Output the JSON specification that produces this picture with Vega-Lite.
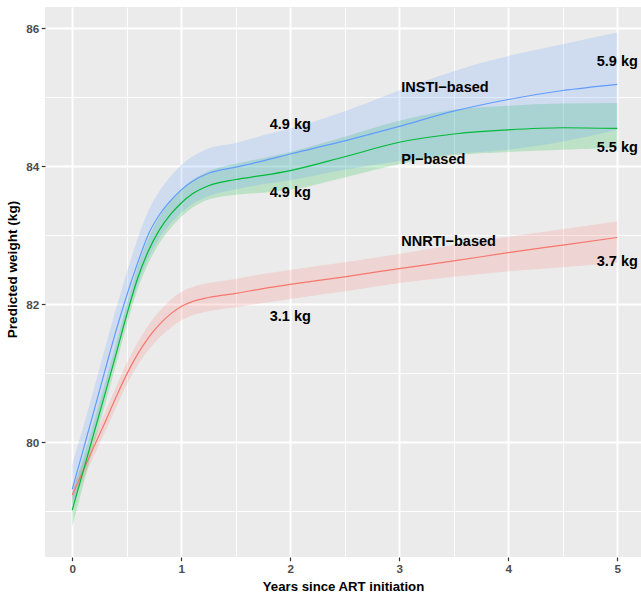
{
  "$schema": "https://vega.github.io/schema/vega-lite/v6.json",
  "width": 596,
  "height": 550,
  "autosize": {"type": "none"},
  "padding": {"left": 45, "top": 7, "right": 0, "bottom": 42},
  "background": "white",
  "config": {
    "view": {"fill": "#EBEBEB", "stroke": null},
    "font": "Liberation Sans",
    "axis": {
      "domain": false,
      "gridColor": "white",
      "tickColor": "#333333",
      "labelColor": "#4D4D4D",
      "labelFont": "Liberation Sans",
      "labelFontWeight": "bold",
      "titleFont": "Liberation Sans",
      "titleFontWeight": "bold",
      "titleColor": "black"
    }
  },
  "datasets": {
    "curves": [
      {"group": "NNRTI-based", "t": 0, "fit": 79.24, "lo": 79.13, "hi": 79.35},
      {"group": "NNRTI-based", "t": 0.1, "fit": 79.59, "lo": 79.47, "hi": 79.71},
      {"group": "NNRTI-based", "t": 0.2, "fit": 79.94, "lo": 79.81, "hi": 80.07},
      {"group": "NNRTI-based", "t": 0.3, "fit": 80.29, "lo": 80.15, "hi": 80.43},
      {"group": "NNRTI-based", "t": 0.4, "fit": 80.65, "lo": 80.5, "hi": 80.8},
      {"group": "NNRTI-based", "t": 0.5, "fit": 80.99, "lo": 80.84, "hi": 81.15},
      {"group": "NNRTI-based", "t": 0.6, "fit": 81.28, "lo": 81.12, "hi": 81.45},
      {"group": "NNRTI-based", "t": 0.7, "fit": 81.52, "lo": 81.34, "hi": 81.7},
      {"group": "NNRTI-based", "t": 0.8, "fit": 81.71, "lo": 81.52, "hi": 81.9},
      {"group": "NNRTI-based", "t": 0.9, "fit": 81.86, "lo": 81.66, "hi": 82.06},
      {"group": "NNRTI-based", "t": 1.0, "fit": 81.97, "lo": 81.77, "hi": 82.18},
      {"group": "NNRTI-based", "t": 1.1, "fit": 82.04, "lo": 81.84, "hi": 82.25},
      {"group": "NNRTI-based", "t": 1.25, "fit": 82.1, "lo": 81.9, "hi": 82.31},
      {"group": "NNRTI-based", "t": 1.5, "fit": 82.16, "lo": 81.96, "hi": 82.37},
      {"group": "NNRTI-based", "t": 1.75, "fit": 82.23, "lo": 82.02, "hi": 82.44},
      {"group": "NNRTI-based", "t": 2.0, "fit": 82.29, "lo": 82.08, "hi": 82.5},
      {"group": "NNRTI-based", "t": 2.5, "fit": 82.4, "lo": 82.19, "hi": 82.61},
      {"group": "NNRTI-based", "t": 3.0, "fit": 82.52, "lo": 82.31, "hi": 82.73},
      {"group": "NNRTI-based", "t": 3.5, "fit": 82.63, "lo": 82.4, "hi": 82.86},
      {"group": "NNRTI-based", "t": 4.0, "fit": 82.75, "lo": 82.48, "hi": 82.98},
      {"group": "NNRTI-based", "t": 4.5, "fit": 82.86, "lo": 82.54, "hi": 83.09},
      {"group": "NNRTI-based", "t": 5.0, "fit": 82.97, "lo": 82.6, "hi": 83.2},
      {"group": "PI-based", "t": 0, "fit": 79.02, "lo": 78.78, "hi": 79.26},
      {"group": "PI-based", "t": 0.1, "fit": 79.58, "lo": 79.38, "hi": 79.78},
      {"group": "PI-based", "t": 0.2, "fit": 80.14, "lo": 79.97, "hi": 80.31},
      {"group": "PI-based", "t": 0.3, "fit": 80.7, "lo": 80.54, "hi": 80.86},
      {"group": "PI-based", "t": 0.4, "fit": 81.27, "lo": 81.12, "hi": 81.42},
      {"group": "PI-based", "t": 0.5, "fit": 81.85, "lo": 81.7, "hi": 82.0},
      {"group": "PI-based", "t": 0.6, "fit": 82.38, "lo": 82.22, "hi": 82.54},
      {"group": "PI-based", "t": 0.7, "fit": 82.78, "lo": 82.6, "hi": 82.96},
      {"group": "PI-based", "t": 0.8, "fit": 83.08, "lo": 82.89, "hi": 83.27},
      {"group": "PI-based", "t": 0.9, "fit": 83.3, "lo": 83.1, "hi": 83.5},
      {"group": "PI-based", "t": 1.0, "fit": 83.47, "lo": 83.27, "hi": 83.67},
      {"group": "PI-based", "t": 1.1, "fit": 83.6, "lo": 83.4, "hi": 83.8},
      {"group": "PI-based", "t": 1.25, "fit": 83.72, "lo": 83.52, "hi": 83.93},
      {"group": "PI-based", "t": 1.5, "fit": 83.81, "lo": 83.59, "hi": 84.04},
      {"group": "PI-based", "t": 1.75, "fit": 83.87, "lo": 83.62, "hi": 84.12},
      {"group": "PI-based", "t": 2.0, "fit": 83.94, "lo": 83.66, "hi": 84.21},
      {"group": "PI-based", "t": 2.5, "fit": 84.14, "lo": 83.84, "hi": 84.43},
      {"group": "PI-based", "t": 3.0, "fit": 84.35, "lo": 84.03, "hi": 84.66},
      {"group": "PI-based", "t": 3.5, "fit": 84.47, "lo": 84.16, "hi": 84.82},
      {"group": "PI-based", "t": 4.0, "fit": 84.53, "lo": 84.21, "hi": 84.88},
      {"group": "PI-based", "t": 4.5, "fit": 84.56, "lo": 84.24, "hi": 84.91},
      {"group": "PI-based", "t": 5.0, "fit": 84.55, "lo": 84.27, "hi": 84.92},
      {"group": "INSTI-based", "t": 0, "fit": 79.32, "lo": 79.0, "hi": 79.68},
      {"group": "INSTI-based", "t": 0.1, "fit": 79.89, "lo": 79.58, "hi": 80.22},
      {"group": "INSTI-based", "t": 0.2, "fit": 80.46, "lo": 80.15, "hi": 80.78},
      {"group": "INSTI-based", "t": 0.3, "fit": 81.04, "lo": 80.73, "hi": 81.36},
      {"group": "INSTI-based", "t": 0.4, "fit": 81.61, "lo": 81.3, "hi": 81.93},
      {"group": "INSTI-based", "t": 0.5, "fit": 82.13, "lo": 81.82, "hi": 82.46},
      {"group": "INSTI-based", "t": 0.6, "fit": 82.6, "lo": 82.29, "hi": 82.95},
      {"group": "INSTI-based", "t": 0.7, "fit": 83.02, "lo": 82.68, "hi": 83.36},
      {"group": "INSTI-based", "t": 0.8, "fit": 83.3, "lo": 82.96, "hi": 83.64},
      {"group": "INSTI-based", "t": 0.9, "fit": 83.5, "lo": 83.17, "hi": 83.85},
      {"group": "INSTI-based", "t": 1.0, "fit": 83.66, "lo": 83.33, "hi": 84.02},
      {"group": "INSTI-based", "t": 1.1, "fit": 83.78, "lo": 83.45, "hi": 84.14},
      {"group": "INSTI-based", "t": 1.25, "fit": 83.9, "lo": 83.57, "hi": 84.26},
      {"group": "INSTI-based", "t": 1.5, "fit": 83.99, "lo": 83.67, "hi": 84.34},
      {"group": "INSTI-based", "t": 1.75, "fit": 84.08, "lo": 83.74, "hi": 84.45},
      {"group": "INSTI-based", "t": 2.0, "fit": 84.18, "lo": 83.8, "hi": 84.55},
      {"group": "INSTI-based", "t": 2.5, "fit": 84.37, "lo": 83.95, "hi": 84.8},
      {"group": "INSTI-based", "t": 3.0, "fit": 84.58, "lo": 84.08, "hi": 85.1},
      {"group": "INSTI-based", "t": 3.5, "fit": 84.8, "lo": 84.18, "hi": 85.38},
      {"group": "INSTI-based", "t": 4.0, "fit": 84.97, "lo": 84.24, "hi": 85.6},
      {"group": "INSTI-based", "t": 4.5, "fit": 85.1, "lo": 84.36, "hi": 85.77},
      {"group": "INSTI-based", "t": 5.0, "fit": 85.19, "lo": 84.53, "hi": 85.94}
    ],
    "centerLabels": [
      {"label": "4.9 kg", "x": 2, "y": 84.6},
      {"label": "4.9 kg", "x": 2, "y": 83.62},
      {"label": "3.1 kg", "x": 2, "y": 81.82},
      {"label": "5.9 kg", "x": 5, "y": 85.52},
      {"label": "5.5 kg", "x": 5, "y": 84.27},
      {"label": "3.7 kg", "x": 5, "y": 82.62}
    ],
    "leftLabels": [
      {"label": "INSTI−based", "x": 3, "y": 85.14},
      {"label": "PI−based", "x": 3, "y": 84.1},
      {"label": "NNRTI−based", "x": 3, "y": 82.91}
    ]
  },
  "layer": [
    {
      "data": {"name": "curves"},
      "mark": {"type": "area", "fillOpacity": 0.2, "interpolate": "monotone", "clip": true},
      "encoding": {
        "x": {
          "field": "t", "type": "quantitative",
          "scale": {"domain": [-0.25, 5.218], "nice": false, "zero": false},
          "axis": {"orient": "bottom", "values": [0.5, 1.5, 2.5, 3.5, 4.5], "grid": true, "gridWidth": 0.95, "labels": false, "ticks": false, "title": null}
        },
        "y": {
          "field": "lo", "type": "quantitative",
          "scale": {"domain": [78.34, 86.31], "nice": false, "zero": false},
          "axis": {"orient": "left", "values": [79, 81, 83, 85], "grid": true, "gridWidth": 0.95, "labels": false, "ticks": false, "title": null}
        },
        "y2": {"field": "hi"},
        "color": {
          "field": "group", "type": "nominal",
          "scale": {"domain": ["NNRTI-based", "PI-based", "INSTI-based"], "range": ["#F8766D", "#00BA38", "#619CFF"]},
          "legend": null
        }
      }
    },
    {
      "data": {"name": "curves"},
      "mark": {"type": "line", "strokeWidth": 1.2, "interpolate": "monotone", "clip": true},
      "encoding": {
        "x": {
          "field": "t", "type": "quantitative",
          "scale": {"domain": [-0.25, 5.218], "nice": false, "zero": false},
          "axis": {"orient": "bottom", "values": [0, 1, 2, 3, 4, 5], "grid": true, "gridWidth": 1.9, "tickSize": 3.7, "tickWidth": 1.2, "labelPadding": 2.5, "labelFontSize": 11.7, "titleFontSize": 13.2, "titlePadding": 6, "title": "Years since ART initiation"}
        },
        "y": {
          "field": "fit", "type": "quantitative",
          "scale": {"domain": [78.34, 86.31], "nice": false, "zero": false},
          "axis": {"orient": "left", "values": [80, 82, 84, 86], "grid": true, "gridWidth": 1.9, "tickSize": 3.7, "tickWidth": 1.2, "labelPadding": 2.5, "labelFontSize": 11.7, "titleFontSize": 13.6, "titlePadding": 6, "titleY": 262, "title": "Predicted weight (kg)"}
        },
        "color": {
          "field": "group", "type": "nominal",
          "scale": {"domain": ["NNRTI-based", "PI-based", "INSTI-based"], "range": ["#F8766D", "#00BA38", "#619CFF"]},
          "legend": null
        }
      }
    },
    {
      "data": {"name": "centerLabels"},
      "mark": {"type": "text", "fontSize": 14.5, "fontWeight": "bold", "color": "black", "align": "center", "baseline": "middle", "font": "Liberation Sans"},
      "encoding": {
        "x": {"field": "x", "type": "quantitative", "scale": {"domain": [-0.25, 5.218], "nice": false, "zero": false}, "axis": null},
        "y": {"field": "y", "type": "quantitative", "scale": {"domain": [78.34, 86.31], "nice": false, "zero": false}, "axis": null},
        "text": {"field": "label"}
      }
    },
    {
      "data": {"name": "leftLabels"},
      "mark": {"type": "text", "fontSize": 14.5, "fontWeight": "bold", "color": "black", "align": "left", "baseline": "middle", "dx": 2, "font": "Liberation Sans"},
      "encoding": {
        "x": {"field": "x", "type": "quantitative", "scale": {"domain": [-0.25, 5.218], "nice": false, "zero": false}, "axis": null},
        "y": {"field": "y", "type": "quantitative", "scale": {"domain": [78.34, 86.31], "nice": false, "zero": false}, "axis": null},
        "text": {"field": "label"}
      }
    }
  ],
  "resolve": {"axis": {"x": "independent", "y": "independent"}}
}
